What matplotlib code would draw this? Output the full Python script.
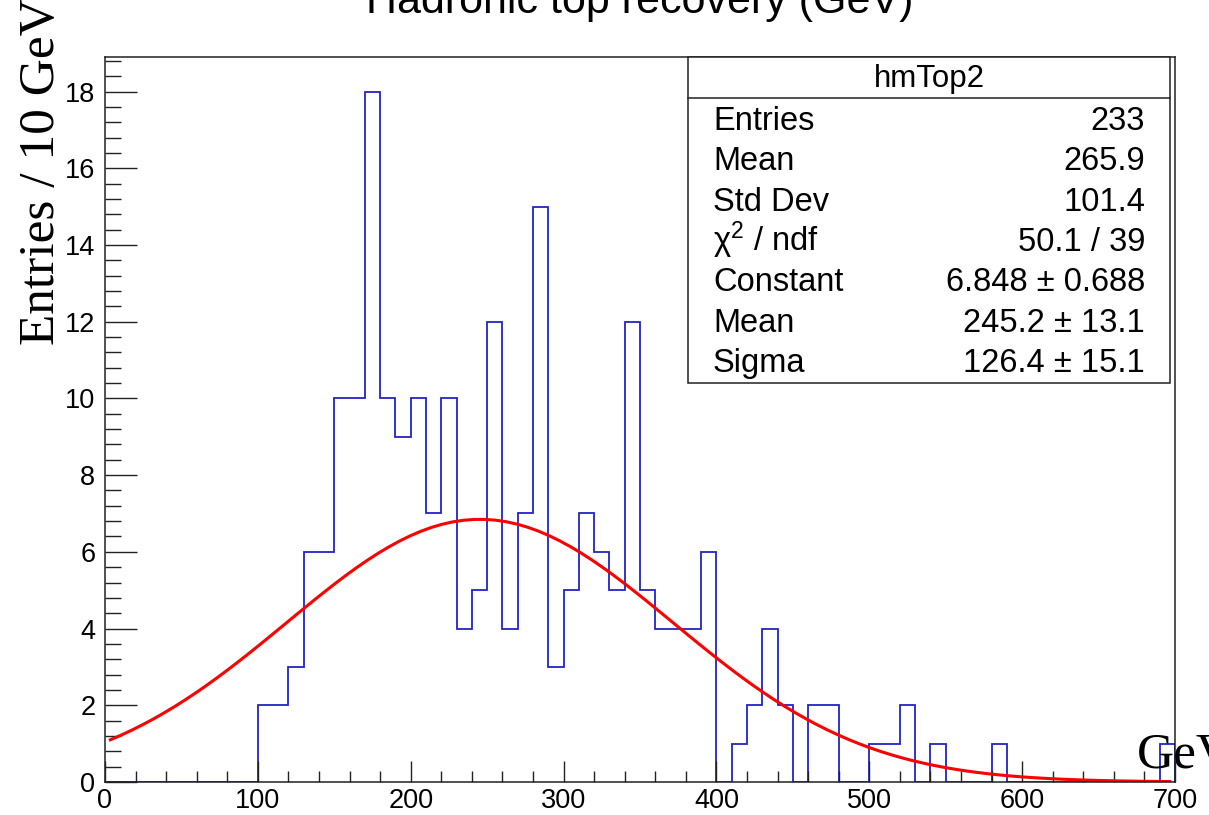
import numpy as np
import matplotlib
matplotlib.use("Agg")
import matplotlib.pyplot as plt
from matplotlib.ticker import MultipleLocator

plt.rcParams['font.family'] = ['Liberation Sans', 'DejaVu Sans']
plt.rcParams['mathtext.fontset'] = 'custom'
plt.rcParams['mathtext.rm'] = 'Liberation Sans'
plt.rcParams['mathtext.it'] = 'Liberation Sans:italic'

# histogram hmTop2, 10 GeV bins from 0 to 700
bin_edges = np.arange(0, 710, 10)
counts = [0, 0, 0, 0, 0, 0, 0, 0, 0, 0,
          2, 2, 3, 6, 6, 10, 10, 18, 10, 9,
          10, 7, 10, 4, 5, 12, 4, 7, 15, 3,
          5, 7, 6, 5, 12, 5, 4, 4, 4, 6,
          0, 1, 2, 4, 2, 0, 2, 2, 0, 0,
          1, 1, 2, 0, 1, 0, 0, 0, 1, 0,
          0, 0, 0, 0, 0, 0, 0, 0, 0, 1]

# gaussian fit parameters from the stats box
fit_const = 6.848
fit_mean = 245.2
fit_sigma = 126.4

stat_labels = ["Entries", "Mean", "Std Dev", "χ$^{2}$ / ndf", "Constant", "Mean", "Sigma"]
stat_values = ["233", "265.9", "101.4", "50.1 / 39", "6.848 ± 0.688",
               "245.2 ± 13.1", "126.4 ± 15.1"]

W, H = 1209, 815
fig = plt.figure(figsize=(W / 100, H / 100), dpi=100)
ax = fig.add_axes([105 / W, 1 - 782 / H, (1175 - 105) / W, (782 - 57) / H])

ax.stairs(counts, bin_edges, color='#2424c4', linewidth=1.3, baseline=0)

xf = np.linspace(3.5, 696.5, 100)
yf = fit_const * np.exp(-0.5 * ((xf - fit_mean) / fit_sigma) ** 2)
ax.plot(xf, yf, color='red', linewidth=2.2)

ax.set_xlim(0, 700)
ax.set_ylim(0, 18.9)
ax.xaxis.set_major_locator(MultipleLocator(100))
ax.xaxis.set_minor_locator(MultipleLocator(20))
ax.yaxis.set_major_locator(MultipleLocator(2))
ax.yaxis.set_minor_locator(MultipleLocator(0.4))
ax.tick_params(axis='both', which='both', direction='in', top=False, right=False,
               labelsize=19.5, width=1.0, color='#222222')
ax.tick_params(axis='x', which='major', length=15, pad=4)
ax.tick_params(axis='x', which='minor', length=8)
ax.tick_params(axis='y', which='major', length=23, pad=7)
ax.tick_params(axis='y', which='minor', length=11.5)
for s in ax.spines.values():
    s.set_linewidth(1.1)
    s.set_color('#222222')

# title, partly cut off at the top
fig.text(640 / W, 1 - 13 / H, "Hadronic top recovery (GeV)", ha='center',
         va='baseline', fontsize=31)

# axis titles in serif
fig.text(42 / W, 1 - 345 / H, "Entries / 10 GeV", rotation=90, ha='center',
         va='bottom', fontsize=37, family=['Liberation Serif', 'DejaVu Serif'])
fig.text(1137 / W, 1 - 768 / H, "GeV", ha='left', va='baseline', fontsize=37,
         family=['Liberation Serif', 'DejaVu Serif'])

# stats box
bx0, bx1, by0, by1 = 688, 1170, 57, 383
box = plt.Rectangle((bx0 / W, 1 - by1 / H), (bx1 - bx0) / W, (by1 - by0) / H,
                    transform=fig.transFigure, facecolor='white', edgecolor='#222222',
                    linewidth=1.1, zorder=5)
fig.add_artist(box)
fig.add_artist(plt.Line2D([bx0 / W, bx1 / W], [1 - 98 / H, 1 - 98 / H],
                          transform=fig.transFigure, color='#222222', linewidth=1.1, zorder=6))
fig.text((bx0 + bx1) / 2 / W, 1 - 87 / H, "hmTop2", ha='center', va='baseline',
         fontsize=22.5, zorder=7)
for i, (lab, val) in enumerate(zip(stat_labels, stat_values)):
    yb = 1 - (130 + i * 40.3) / H
    fig.text(713 / W, yb, lab, ha='left', va='baseline', fontsize=23.5, zorder=7)
    fig.text(1145 / W, yb, val, ha='right', va='baseline', fontsize=23.5, zorder=7)

fig.savefig("out.png", dpi=100)
